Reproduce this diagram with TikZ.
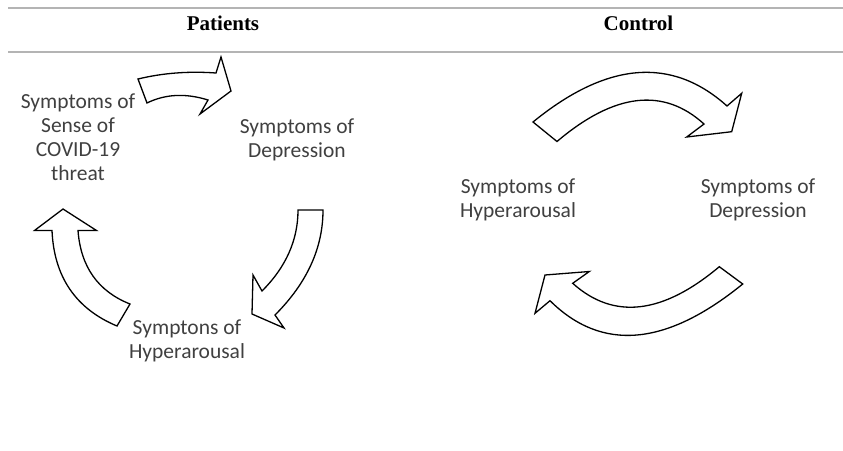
\documentclass[tikz,border=0pt]{standalone}
\usepackage{fontspec}
\setmainfont{Carlito}
\newfontfamily\headfont{Liberation Serif}
\definecolor{labelgray}{HTML}{404040}
\definecolor{rulegray}{HTML}{B4B4B4}
\tikzset{
  rulestyle/.style={draw=rulegray, line width=1.1pt},
  headstyle/.style={font=\headfont\bfseries\fontsize{21}{24}\selectfont, text=black, inner sep=0pt, anchor=base},
  labelstyle/.style={font=\fontsize{21.5}{24}\selectfont, text=labelgray, align=center, inner sep=0pt},
  blockarrow/.style={draw=black, fill=white, line width=1.3pt, line join=miter}
}
\begin{document}
\begin{tikzpicture}[x=1pt,y=-1pt]
\useasboundingbox (0,0) rectangle (843,450);
% table rules
\coordinate (r1a) at (8,8);
\coordinate (r1b) at (843,8);
\coordinate (r2a) at (8,52);
\coordinate (r2b) at (843,52);
\draw[rulestyle] (r1a) -- (r1b);
\draw[rulestyle] (r2a) -- (r2b);
% headers
\node[headstyle] (patients) at (223,30) {Patients};
\node[headstyle] (control) at (638.5,30) {Control};
% left panel labels
\node[labelstyle] (threat) at (78,137.5) {Symptoms of\\Sense of\\COVID-19\\threat};
\node[labelstyle] (ldep) at (297,139.75) {Symptoms of\\Depression};
\node[labelstyle] (lhyp) at (187,340.75) {Symptons of\\Hyperarousal};
% right panel labels
\node[labelstyle] (rhyp) at (518,200) {Symptoms of\\Hyperarousal};
\node[labelstyle] (rdep) at (758,200) {Symptoms of\\Depression};
% left panel arrows
\draw[blockarrow] (138,79) .. controls (162.7,73) and (188.7,71) .. (216,73)
  -- (221,57) -- (231,91) -- (200,114) -- (208,100)
  .. controls (185.7,93) and (165.3,94) .. (147,103) -- cycle;
\draw[blockarrow] (298,210) -- (323,210)
  .. controls (323,248) and (307,283) .. (275,315)
  -- (284,328) -- (252,314) -- (253,275) -- (262,291)
  .. controls (286,267) and (298,240) .. (298,210) -- cycle;
\draw[blockarrow] (63,209) -- (34.5,230.5) -- (52,230.5)
  .. controls (54,276.8) and (75.7,308.7) .. (117,326)
  -- (130,304)
  .. controls (98,291.3) and (80.7,266.8) .. (78,230.5)
  -- (96.5,230.5) -- cycle;
% right panel arrows
\draw[blockarrow] (533,122) .. controls (607,61.6) and (671.7,56.3) .. (727,106)
  -- (741.7,93.3) -- (731.7,131.7) -- (686.7,137) -- (704,124)
  .. controls (663.3,87.1) and (614.3,92.9) .. (557,141.5) -- cycle;
\draw[blockarrow] (719.3,266.7) -- (742.7,284)
  .. controls (666,346.4) and (601.8,352) .. (550,300.7)
  -- (535,313.3) -- (545,275) -- (589.3,271.5) -- (572.7,283.3)
  .. controls (613.6,320) and (662.4,314.5) .. (719.3,266.7) -- cycle;
\end{tikzpicture}
\end{document}
